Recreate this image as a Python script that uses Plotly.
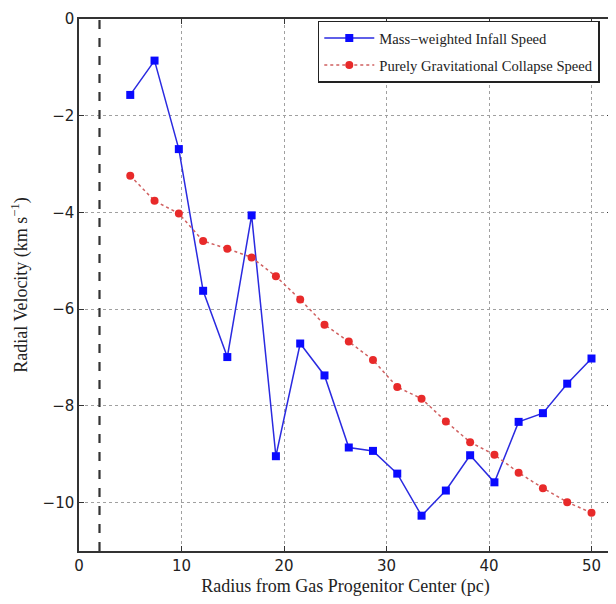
import plotly.graph_objects as go

radius = [5.0, 7.37, 9.74, 12.11, 14.47, 16.84, 19.21, 21.58, 23.95, 26.32,
          28.68, 31.05, 33.42, 35.79, 38.16, 40.53, 42.89, 45.26, 47.63, 50.0]
infall = [-1.57, -0.86, -2.69, -5.62, -6.99, -4.06, -9.04, -6.71, -7.37, -8.86,
          -8.93, -9.40, -10.27, -9.75, -9.02, -9.58, -8.33, -8.15, -7.54, -7.02]
collapse = [-3.24, -3.76, -4.02, -4.59, -4.75, -4.93, -5.32, -5.80, -6.32, -6.67,
            -7.05, -7.61, -7.85, -8.32, -8.75, -9.01, -9.38, -9.70, -9.99, -10.21]
dashed_x = 2.0
x_ticks = [0, 10, 20, 30, 40, 50]
y_ticks = [0, -2, -4, -6, -8, -10]

serif = "Liberation Serif"
sans = "DejaVu Sans"

fig = go.Figure()
fig.add_trace(go.Scatter(
    x=radius, y=infall, mode="lines+markers",
    name="Mass\u2212weighted Infall Speed", legendgroup="a",
    line=dict(color="#2a2ae0", width=1.5),
    marker=dict(symbol="square", size=8, color="#0a0aff", line=dict(width=0)),
))
fig.add_trace(go.Scatter(
    x=radius, y=collapse, mode="lines+markers",
    name="Purely Gravitational Collapse Speed", legendgroup="b",
    line=dict(color="#d06060", width=1.5, dash="dot"),
    marker=dict(symbol="circle", size=8, color="#e82a2a", line=dict(width=0)),
))
fig.add_shape(type="line", x0=dashed_x, x1=dashed_x, y0=0, y1=1, yref="paper",
              line=dict(color="#333333", width=2.2, dash="dash"))

axis_common = dict(
    showline=True, linecolor="#333333", linewidth=1.5, mirror="ticks",
    ticks="inside", ticklen=5, tickcolor="#333333",
    showgrid=True, gridcolor="#a0a0a0", griddash="dot", gridwidth=1,
    zeroline=False, tickfont=dict(family=sans, size=15, color="#222222"),
    ticklabeloverflow="allow",
)
fig.update_xaxes(range=[0, 52], tickvals=x_ticks,
                 title=dict(text="Radius from Gas Progenitor Center (pc)",
                            font=dict(family=serif, size=18, color="#222222"), standoff=6),
                 **axis_common)
fig.update_yaxes(range=[-11, 0], tickvals=y_ticks,
                 ticktext=[("\u2212" + str(-v)) if v < 0 else str(v) for v in y_ticks],
                 title=dict(text="Radial Velocity (km s<sup>\u22121</sup>)",
                            font=dict(family=serif, size=18, color="#222222"), standoff=12),
                 **axis_common)

fig.update_layout(
    width=608, height=596,
    margin=dict(l=71, r=4, t=2, b=53),
    plot_bgcolor="white", paper_bgcolor="white",
    legend=dict(x=0.448, y=0.997, xanchor="left", yanchor="top",
                bgcolor="white", bordercolor="#222222", borderwidth=1.5,
                font=dict(family=serif, size=14.6, color="#222222"),
                itemwidth=50, tracegroupgap=5),
    showlegend=True,
)
fig.write_html("out.html")
